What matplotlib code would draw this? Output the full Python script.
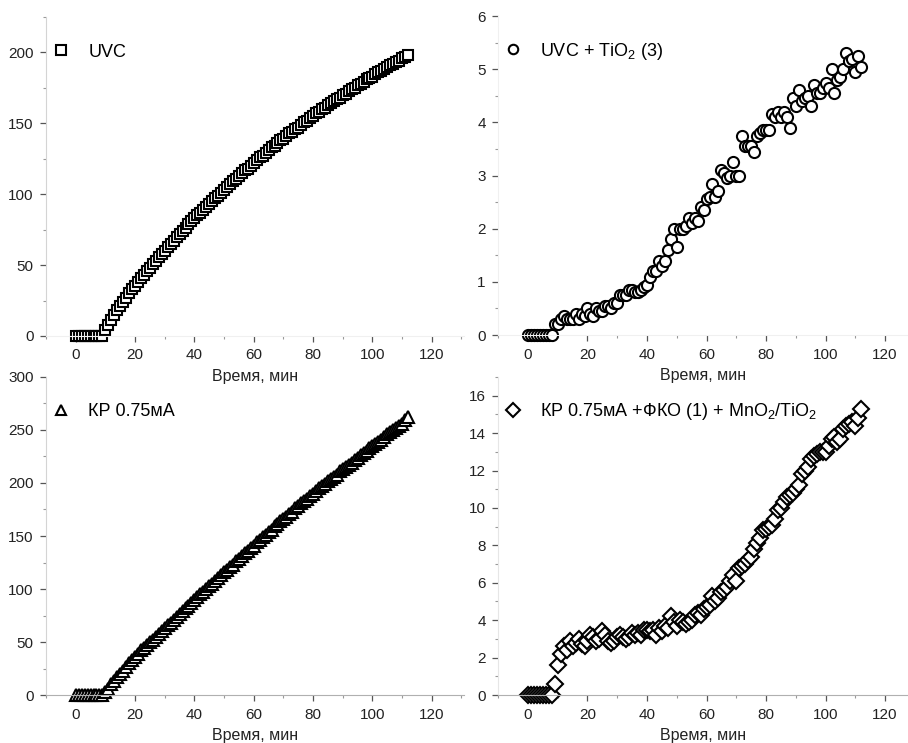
import matplotlib

matplotlib.use("Agg")
import matplotlib.pyplot as plt  # noqa: E402
from matplotlib.ticker import MultipleLocator  # noqa: E402

plt.rcParams["font.family"] = ["Liberation Sans", "DejaVu Sans"]
plt.rcParams["mathtext.default"] = "regular"

# ---------------------------------------------------------------------------
# Data, time in minutes
# ---------------------------------------------------------------------------
TIME = [
    0, 1, 2, 3, 4, 5, 6, 7, 8, 9, 10, 11, 12, 13, 14, 15, 16, 17, 18, 19,
    20, 21, 22, 23, 24, 25, 26, 27, 28, 29, 30, 31, 32, 33, 34, 35, 36, 37,
    38, 39, 40, 41, 42, 43, 44, 45, 46, 47, 48, 49, 50, 51, 52, 53, 54, 55,
    56, 57, 58, 59, 60, 61, 62, 63, 64, 65, 66, 67, 68, 69, 70, 71, 72, 73,
    74, 75, 76, 77, 78, 79, 80, 81, 82, 83, 84, 85, 86, 87, 88, 89, 90, 91,
    92, 93, 94, 95, 96, 97, 98, 99, 100, 101, 102, 103, 104, 105, 106, 107,
    108, 109, 110, 111, 112,
]

UVC = [
    0, 0, 0, 0, 0, 0, 0, 0, 0, 0, 4, 8, 11, 15, 18, 21, 24, 27, 30, 33,
    35, 38, 41, 43, 46, 48, 51, 53, 56, 58, 60, 63, 65, 67, 70, 72, 74, 76,
    79, 81, 83, 85, 87, 89, 91, 93, 95, 97, 99, 101, 103, 105, 107, 109, 111, 113,
    115, 117, 118, 120, 122, 124, 126, 127, 129, 131, 133, 134, 136, 138, 139, 141, 143, 144,
    146, 147, 149, 151, 152, 154, 155, 157, 158, 160, 161, 163, 164, 166, 167, 168, 170, 171,
    173, 174, 175, 177, 178, 179, 181, 182, 183, 185, 186, 187, 188, 190, 191, 192,
    193, 194, 196, 197, 198,
]

UVC_TIO2 = [
    0, 0, 0, 0, 0, 0, 0, 0, 0, 0.2, 0.2, 0.3, 0.35, 0.3, 0.3, 0.3, 0.4, 0.3, 0.4, 0.35,
    0.5, 0.4, 0.35, 0.5, 0.45, 0.45, 0.55, 0.55, 0.5, 0.6, 0.6, 0.75, 0.75, 0.75, 0.85, 0.85, 0.8, 0.8,
    0.85, 0.9, 0.95, 1.1, 1.2, 1.2, 1.4, 1.3, 1.4, 1.6, 1.8, 2.0, 1.65, 2.0, 2.0, 2.05, 2.2, 2.1,
    2.2, 2.15, 2.4, 2.35, 2.55, 2.6, 2.85, 2.6, 2.7, 3.1, 3.05, 2.95, 3.0, 3.25, 3.0, 3.0, 3.75, 3.55,
    3.55, 3.55, 3.45, 3.75, 3.8, 3.85, 3.85, 3.85, 4.15, 4.1, 4.2, 4.1, 4.2, 4.1, 3.9, 4.45, 4.3, 4.6,
    4.4, 4.45, 4.5, 4.3, 4.7, 4.55, 4.55, 4.65, 4.75, 4.65, 5.0, 4.55, 4.8, 4.85, 5.0, 5.3,
    5.15, 5.2, 4.95, 5.25, 5.05,
]

KP = [
    0, 0, 0, 0, 0, 0, 0, 0, 0, 0, 3, 6, 10, 13, 17, 20, 23, 26, 30, 33,
    36, 39, 42, 44, 47, 50, 52, 55, 58, 60, 63, 66, 68, 71, 74, 76, 79, 82,
    84, 87, 90, 92, 95, 97, 100, 103, 105, 108, 110, 113, 116, 118, 121, 123, 126, 128,
    131, 134, 136, 139, 141, 144, 146, 149, 151, 154, 156, 159, 161, 164, 166, 168, 171, 173,
    176, 178, 181, 183, 185, 188, 190, 192, 195, 197, 199, 202, 204, 206, 208, 211, 213, 215,
    217, 219, 222, 224, 226, 228, 230, 233, 235, 237, 239, 241, 243, 246, 248, 250,
    252, 254, 256, 259, 262,
]

KP_MNO2 = [
    0, 0, 0, 0, 0, 0, 0, 0, 0, 0.6, 1.6, 2.2, 2.6, 2.4, 2.9, 2.6, 2.8, 3.0, 2.7, 2.6,
    2.9, 3.2, 3.1, 2.9, 3.0, 3.4, 3.2, 2.9, 2.8, 2.9, 3.1, 3.2, 3.1, 3.0, 3.1, 3.3, 3.2, 3.3,
    3.2, 3.5, 3.5, 3.4, 3.5, 3.2, 3.6, 3.4, 3.7, 3.6, 4.2, 3.9, 3.7, 4.0, 3.9, 3.8, 3.9, 4.0,
    4.3, 4.4, 4.3, 4.6, 4.7, 4.8, 5.3, 5.0, 5.2, 5.5, 5.6, 5.8, 6.1, 6.4, 6.1, 6.8, 6.9, 7.0,
    7.2, 7.4, 7.8, 8.1, 8.4, 8.8, 8.9, 9.0, 9.1, 9.4, 9.9, 10.0, 10.3, 10.6, 10.7, 10.8, 11.0, 11.2,
    11.8, 12.0, 12.2, 12.6, 12.8, 12.9, 13.0, 13.0, 13.0, 13.3, 13.7, 13.8, 13.5, 13.7, 14.2, 14.4,
    14.5, 14.6, 14.4, 14.8, 15.3,
]

LABELS = [
    "UVC",
    "UVC + TiO$_2$ (3)",
    "КР 0.75мА",
    "КР 0.75мА +ФКО (1) + MnO$_2$/TiO$_2$",
]
XLABEL = "Время, мин"

# ---------------------------------------------------------------------------
# Layout
# ---------------------------------------------------------------------------
W, H = 908, 743
fig = plt.figure(figsize=(W / 100, H / 100), dpi=100)

panels = [
    dict(rect=[0.0507, 0.5478, 0.4608, 0.4293], y=UVC, marker="s", ms=7.8,
         xlim=(-10, 131), ylim=(0, 225), ymaj=50, ymin=25,
         left="#d4d4d4", bottom="#f0f0f0"),
    dict(rect=[0.5487, 0.5491, 0.4513, 0.4293], y=UVC_TIO2, marker="o", ms=8.0,
         xlim=(-10, 127.7), ylim=(0, 6), ymaj=1, ymin=0.5,
         left="#f0f0f0", bottom="#f0f0f0"),
    dict(rect=[0.0507, 0.0646, 0.4608, 0.4280], y=KP, marker="^", ms=8.8,
         xlim=(-10, 131), ylim=(0, 300), ymaj=50, ymin=25,
         left="#d4d4d4", bottom="#b0b0b0"),
    dict(rect=[0.5487, 0.0646, 0.4513, 0.4280], y=KP_MNO2, marker="D", ms=7.8,
         xlim=(-10, 127.7), ylim=(0, 17), ymaj=2, ymin=1,
         left="#e6e6e6", bottom="#b0b0b0"),
]

for p, label in zip(panels, LABELS):
    ax = fig.add_axes(p["rect"])
    ax.patch.set_visible(False)
    ax.plot(TIME, p["y"], linestyle="none", marker=p["marker"], ms=p["ms"],
            mfc="white", mec="black", mew=1.5, clip_on=False, label=label)

    ax.set_xlim(*p["xlim"])
    ax.set_ylim(*p["ylim"])
    ax.xaxis.set_major_locator(MultipleLocator(20))
    ax.xaxis.set_minor_locator(MultipleLocator(10))
    ax.yaxis.set_major_locator(MultipleLocator(p["ymaj"]))
    ax.yaxis.set_minor_locator(MultipleLocator(p["ymin"]))

    for side in ("top", "right"):
        ax.spines[side].set_visible(False)
    ax.spines["left"].set_color(p["left"])
    ax.spines["bottom"].set_color(p["bottom"])

    ax.tick_params(which="major", direction="out", length=4, width=0.9,
                   color="#555555", labelsize=11, labelcolor="#222222", pad=5)
    ax.tick_params(which="minor", direction="out", length=2.5, width=0.8,
                   color="#999999")
    ax.set_xlabel(XLABEL, fontsize=11.5, color="#222222", labelpad=5)

    ax.legend(loc="center left", bbox_to_anchor=(0.015, 0.89),
              frameon=False, fontsize=13, handlelength=1.0,
              handletextpad=1.0, borderpad=0, borderaxespad=0,
              markerscale=0.85)

fig.savefig("out.png", dpi=100)
